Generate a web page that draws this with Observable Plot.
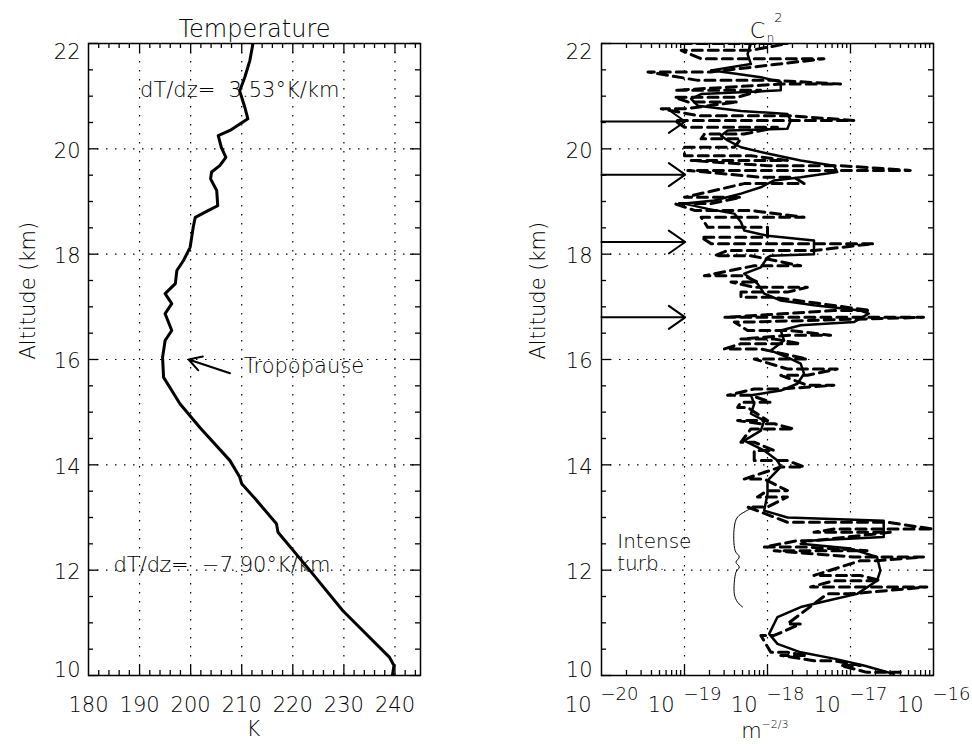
<!DOCTYPE html>
<html><head><meta charset="utf-8">
<script src="https://cdn.jsdelivr.net/npm/d3@7"></script>
<script src="https://cdn.jsdelivr.net/npm/@observablehq/plot@0.6"></script>
<style>
body{margin:0;background:#fff;}
#wrap{display:flex;width:972px;height:744px;overflow:hidden;}
#wrap svg{font-family:"DejaVu Sans",sans-serif;display:block;font-weight:200;}
</style></head><body><div id="wrap"></div>
<script>
// ---------- Temperature profile ----------
const tempAlt = [22.0,21.68,21.36,21.1,20.79,20.57,20.35,20.25,20.03,19.84,19.68,19.56,19.43,19.21,18.92,18.83,18.70,18.51,18.13,17.88,17.69,17.44,17.25,17.06,16.87,16.55,16.36,16.04,15.66,15.41,15.16,14.71,14.08,13.77,13.64,13.36,12.88,12.72,11.93,11.23,10.35,10.19,10.0];
const tempK   = [212.2,211.6,210.6,209.6,210.6,211.2,207.7,205.4,206.0,206.9,205.7,204.1,203.9,205.1,205.3,203.5,200.9,200.5,199.9,198.6,197.3,197.0,195.0,196.3,195.0,196.3,195.0,194.5,194.7,196.3,197.9,201.8,207.7,209.6,210.0,212.6,216.8,217.1,223.9,229.8,238.9,239.8,239.5];

// ---------- Cn2 smoothed profile (log10 m^-2/3) ----------
const cnAlt = [22.0,21.8,21.61,21.49,21.36,21.27,21.11,21.04,20.95,20.82,20.72,20.66,20.54,20.38,20.35,20.25,20.16,20.03,19.91,19.78,19.68,19.56,19.46,19.40,19.27,19.15,19.02,18.96,18.86,18.77,18.61,18.45,18.35,18.26,18.07,18.0,17.97,17.94,17.75,17.63,17.44,17.25,17.12,17.03,16.93,16.87,16.71,16.65,16.55,16.36,16.17,16.04,15.92,15.73,15.54,15.41,15.32,15.16,14.97,14.84,14.65,14.46,14.27,14.08,13.96,13.70,13.45,13.13,13.0,12.94,12.63,12.56,12.5,12.41,12.25,11.99,11.80,11.55,11.42,11.30,11.11,10.79,10.60,10.44,10.32,10.19,10.03];
const cnLog = [-18.2,-18.24,-18.2,-18.68,-18.08,-17.84,-17.84,-18.8,-18.92,-18.84,-18.32,-17.76,-17.72,-17.76,-18.48,-18.56,-18.48,-18.32,-18.0,-17.6,-17.2,-17.16,-17.6,-17.92,-18.08,-18.32,-18.64,-19.0,-18.72,-18.4,-18.32,-18.28,-18.0,-17.44,-17.44,-17.44,-17.96,-18.0,-18.08,-18.28,-18.12,-18.04,-17.84,-17.44,-16.88,-16.78,-16.96,-17.6,-17.84,-17.8,-17.96,-17.76,-17.6,-17.56,-17.64,-17.84,-18.2,-18.16,-18.2,-18.04,-18.08,-18.28,-18.04,-17.88,-17.84,-18.0,-18.0,-18.04,-17.76,-16.6,-16.6,-17.52,-17.6,-17.0,-16.68,-16.64,-16.68,-16.92,-17.28,-17.6,-17.88,-17.98,-17.88,-17.6,-17.2,-16.84,-16.48];

// ---------- Cn2 raw profile: horizontal excursions (log10) ----------
const rawAlt   = [22.0,21.87,21.71,21.46,21.30,21.23,21.11,20.98,20.89,20.76,20.63,20.54,20.41,20.28,20.19,20.03,19.87,19.78,19.68,19.59,19.46,19.34,19.08,18.96,18.83,18.70,18.51,18.32,18.20,18.07,17.97,17.78,17.59,17.47,17.37,17.28,17.18,16.93,16.80,16.71,16.55,16.46,16.39,16.30,16.20,16.01,15.82,15.70,15.51,15.44,15.32,15.19,15.09,14.84,14.78,14.68,14.43,14.27,14.08,13.96,13.73,13.51,13.39,13.20,12.91,12.78,12.72,12.56,12.44,12.37,12.25,12.18,11.90,11.80,11.68,11.55,10.98,10.76,10.44,10.38,10.28,10.19,10.06];
const rawLoLog = [-19.04,-19.04,-18.8,-19.44,-18.84,-17.84,-19.12,-19.12,-18.96,-19.28,-18.84,-19.12,-19.0,-18.76,-18.8,-19.0,-19.0,-18.92,-18.0,-18.96,-18.08,-18.28,-19.0,-19.12,-18.88,-18.8,-18.72,-18.8,-18.68,-18.48,-18.64,-18.16,-18.76,-18.44,-18.16,-18.32,-18.32,-17.2,-18.52,-18.4,-18.24,-17.72,-18.32,-18.32,-18.52,-18.16,-17.76,-17.84,-17.52,-18.16,-18.48,-18.32,-18.36,-18.36,-18.08,-18.2,-18.32,-18.16,-18.16,-17.84,-18.28,-18.0,-18.12,-18.24,-17.76,-17.2,-17.44,-17.64,-18.04,-17.92,-16.96,-16.88,-17.44,-17.2,-17.48,-17.28,-17.76,-18.08,-17.96,-17.84,-17.44,-17.12,-16.8];
const rawHiLog = [-17.76,-18.2,-17.32,-18.68,-17.92,-17.12,-18.08,-18.36,-18.36,-19.0,-17.76,-16.96,-17.88,-18.28,-18.32,-18.4,-18.2,-17.76,-17.12,-16.28,-17.68,-17.56,-18.32,-18.68,-18.2,-17.56,-18.0,-18.0,-16.72,-17.44,-18.2,-17.6,-18.28,-18.12,-17.52,-17.76,-17.92,-16.76,-16.12,-18.24,-17.72,-17.24,-17.92,-17.6,-18.08,-17.52,-17.16,-17.52,-17.2,-17.84,-18.2,-17.96,-18.24,-18.0,-17.92,-17.68,-18.16,-17.92,-17.76,-17.56,-18.04,-17.76,-17.76,-18.0,-16.56,-16.0,-16.52,-17.44,-17.56,-16.8,-16.12,-16.68,-16.88,-16.64,-16.08,-17.0,-17.6,-17.92,-17.76,-17.52,-17.2,-16.88,-16.4];

// ---------- Annotations ----------
const layerArrowAlt = [20.52, 19.51, 18.23, 16.80];
const braceAlt = [13.17,13.01,12.82,12.37,12.25,12.15,12.06,11.96,11.55,11.39,11.30];
const braceLog = [-18.20,-18.36,-18.40,-18.39,-18.34,-18.38,-18.34,-18.38,-18.40,-18.36,-18.30];
const tropoArrow = {fromK: 207.7, fromAlt: 15.74, toK: 199.6, toAlt: 16.0};

// ---------- Tick values ----------
const altTicks = [10, 12, 14, 16, 18, 20, 22];
const altGrid = [12, 14, 16, 18, 20];
const tempTicks = [180, 190, 200, 210, 220, 230, 240];
const tempGrid = [190, 200, 210, 220, 230, 240];
const cnDecades = [-20, -19, -18, -17, -16];
const cnGrid = [1e-19, 1e-18, 1e-17];

const altMinor = d3.range(10.5, 22, 0.5).filter(v => v % 2 !== 0);
const tempMinor = d3.range(182, 245, 2).filter(v => v % 10 !== 0);
const cnMinor = [];
for (const n of [-20, -19, -18, -17]) for (let k = 2; k <= 9; k++) cnMinor.push(k * Math.pow(10, n));

const tData = tempAlt.map((z, i) => ({z, t: tempK[i]}));
const cnData = cnAlt.map((z, i) => ({z, c: Math.pow(10, cnLog[i])}));
const rawData = [];
rawAlt.forEach((z, i) => {
  const a = Math.pow(10, rawLoLog[i]), b = Math.pow(10, rawHiLog[i]);
  if (i % 2 === 0) { rawData.push({z, c: a}); rawData.push({z, c: b}); }
  else { rawData.push({z, c: b}); rawData.push({z, c: a}); }
});
const braceData = braceAlt.map((z, i) => ({z, c: Math.pow(10, braceLog[i])}));

const IW = 332, IH = 632;
const dots = "1.5,7.5";
function yTicks(vals, len) {
  return [
    Plot.ruleY(vals, {y: d => d, insetRight: IW - len, stroke: "black", strokeWidth: 1.3}),
    Plot.ruleY(vals, {y: d => d, insetLeft: IW - len, stroke: "black", strokeWidth: 1.3})
  ];
}
function xTicks(vals, len) {
  return [
    Plot.ruleX(vals, {x: d => d, insetTop: IH - len, stroke: "black", strokeWidth: 1.3}),
    Plot.ruleX(vals, {x: d => d, insetBottom: IH - len, stroke: "black", strokeWidth: 1.3})
  ];
}
function yLabels(off) {
  return [
    Plot.text([22], {y: d => d, text: d => String(d), frameAnchor: "left", textAnchor: "end", dx: off, dy: 9, fontSize: 21}),
    Plot.text(altGrid, {y: d => d, text: d => String(d), frameAnchor: "left", textAnchor: "end", dx: off, dy: 2, fontSize: 21}),
    Plot.text([10], {y: d => d, text: d => String(d), frameAnchor: "left", textAnchor: "end", dx: off, dy: -5, fontSize: 21})
  ];
}
const style = {fontFamily: "DejaVu Sans", fontSize: "21px", background: "white", color: "black", overflow: "visible"};

const left = Plot.plot({
  width: 480, height: 744,
  marginLeft: 88, marginRight: 60, marginTop: 43, marginBottom: 69,
  style,
  x: {domain: [180, 245], label: null, axis: null},
  y: {domain: [10, 22], label: null, axis: null},
  marks: [
    Plot.ruleX(tempGrid, {x: d => d, stroke: "black", strokeWidth: 1.2, strokeDasharray: dots}),
    Plot.ruleY(altGrid, {y: d => d, stroke: "black", strokeWidth: 1.2, strokeDasharray: dots}),
    ...yTicks(altTicks, 10), ...yTicks(altMinor, 5),
    ...xTicks(tempGrid, 10), ...xTicks(tempMinor, 5),
    Plot.text(["dT/dz=\u00A0\u00A03.53°K/km"], {x: 190.1, y: 21.11, textAnchor: "start", fontSize: 21}),
    Plot.text(["dT/dz=\u00A0\u00A0\u22127.90°K/km"], {x: 184.9, y: 12.09, textAnchor: "start", fontSize: 21}),
    Plot.text(["Tropopause"], {x: 210.4, y: 15.87, textAnchor: "start", fontSize: 21}),
    Plot.arrow([tropoArrow], {x1: "fromK", y1: "fromAlt", x2: "toK", y2: "toAlt", stroke: "black", strokeWidth: 2, headLength: 13, headAngle: 60}),
    Plot.line(tData, {x: "t", y: "z", stroke: "black", strokeWidth: 3, clip: true}),
    Plot.frame({stroke: "black", strokeWidth: 1.5}),
    ...yLabels(-8),
    Plot.text(tempTicks, {x: d => d, text: d => String(d), frameAnchor: "bottom", lineAnchor: "top", dy: 22, fontSize: 21}),
    Plot.text(["Temperature"], {frameAnchor: "top", dy: -24, fontSize: 24, letterSpacing: 2}),
    Plot.text(["K"], {frameAnchor: "bottom", dx: -1, dy: 60, fontSize: 21}),
    Plot.text(["Altitude (km)"], {frameAnchor: "left", dx: -60, rotate: -90, fontSize: 21, letterSpacing: 1})
  ]
});

const right = Plot.plot({
  width: 492, height: 744,
  marginLeft: 121, marginRight: 39, marginTop: 43, marginBottom: 69,
  style,
  x: {type: "log", domain: [1e-20, 1e-16], label: null, axis: null},
  y: {domain: [10, 22], label: null, axis: null},
  marks: [
    Plot.ruleX(cnGrid, {x: d => d, stroke: "black", strokeWidth: 1.2, strokeDasharray: dots}),
    Plot.ruleY(altGrid, {y: d => d, stroke: "black", strokeWidth: 1.2, strokeDasharray: dots}),
    ...yTicks(altTicks, 10), ...yTicks(altMinor, 5),
    ...xTicks(cnGrid, 10), ...xTicks(cnMinor, 5),
    Plot.text(["Intense"], {x: Math.pow(10, -19.81), y: 12.54, textAnchor: "start", fontSize: 20}),
    Plot.text(["turb."], {x: Math.pow(10, -19.81), y: 12.12, textAnchor: "start", fontSize: 20}),
    Plot.line(braceData, {x: "c", y: "z", stroke: "black", strokeWidth: 1, curve: "catmull-rom"}),
    Plot.arrow(layerArrowAlt, {x1: 1e-20, x2: 1.02e-19, y1: d => d, y2: d => d, stroke: "black", strokeWidth: 2, headLength: 15, headAngle: 70}),
    Plot.line(rawData, {x: "c", y: "z", stroke: "black", strokeWidth: 3, strokeDasharray: "10,6", clip: true}),
    Plot.line(cnData, {x: "c", y: "z", stroke: "black", strokeWidth: 2.5, clip: true}),
    Plot.frame({stroke: "black", strokeWidth: 1.5}),
    ...yLabels(-9),
    Plot.text(cnDecades, {x: d => Math.pow(10, d), text: () => "10", frameAnchor: "bottom", textAnchor: "end", lineAnchor: "top", dx: -10, dy: 22, fontSize: 21}),
    Plot.text(cnDecades, {x: d => Math.pow(10, d), text: d => "\u2212" + Math.abs(d), frameAnchor: "bottom", textAnchor: "start", lineAnchor: "top", dx: -1, dy: 12, fontSize: 18}),
    Plot.text(["C"], {frameAnchor: "top", dx: -10, dy: -21, fontSize: 22}),
    Plot.text(["n"], {frameAnchor: "top", dx: 3, dy: -10, fontSize: 12}),
    Plot.text(["2"], {frameAnchor: "top", dx: 11, dy: -31, fontSize: 13}),
    Plot.text(["m"], {frameAnchor: "bottom", dx: -16, dy: 62, fontSize: 21}),
    Plot.text(["\u22122/3"], {frameAnchor: "bottom", textAnchor: "start", dx: -6, dy: 52, fontSize: 11}),
    Plot.text(["Altitude (km)"], {frameAnchor: "left", dx: -63, rotate: -90, fontSize: 21, letterSpacing: 1})
  ]
});

document.getElementById("wrap").append(left, right);
</script></body></html>
